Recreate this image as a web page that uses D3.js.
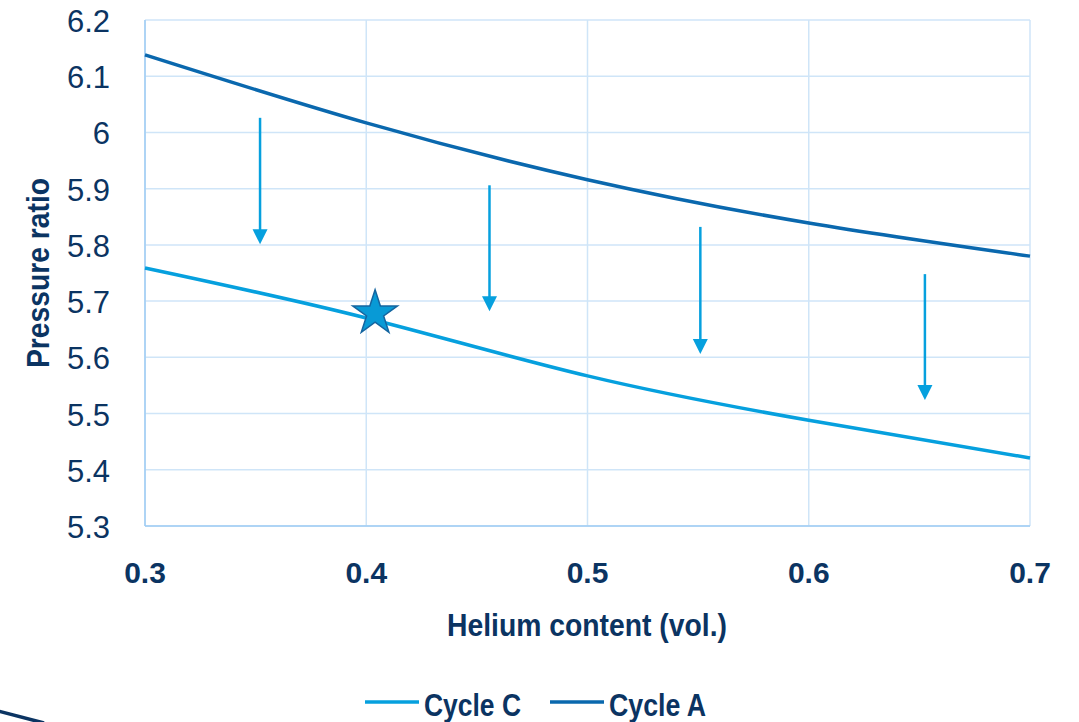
<!DOCTYPE html>
<html>
<head>
<meta charset="utf-8">
<script src="https://cdn.jsdelivr.net/npm/d3@7"></script>
<style>
  body { margin: 0; background: #fff; }
  svg { display: block; }
  .ytick { font-family: "Liberation Sans", Arial, sans-serif; font-size: 31px; fill: #0b3462; }
  .xtick { font-family: "Liberation Sans", Arial, sans-serif; font-size: 30px; font-weight: bold; fill: #0b3462; }
  .title { font-family: "Liberation Sans", Arial, sans-serif; font-weight: bold; font-size: 32px; fill: #0b3462; }
</style>
</head>
<body>
<div id="chart"></div>
<script>
// helium content on the x axis
const helium = [0.3, 0.4, 0.5, 0.6, 0.7];
// pressure ratio per cycle
const cycleA = [6.138, 6.017, 5.916, 5.839, 5.780];
const cycleC = [5.759, 5.670, 5.567, 5.488, 5.421];

const xTicks = [0.3, 0.4, 0.5, 0.6, 0.7];
const yTicks = [5.3, 5.4, 5.5, 5.6, 5.7, 5.8, 5.9, 6.0, 6.1, 6.2];

// arrows: x, start, end
const arrowX = [0.352, 0.4557, 0.551, 0.6525];
const arrowFrom = [6.026, 5.906, 5.832, 5.748];
const arrowTo = [5.801, 5.682, 5.606, 5.524];

// the star (design point)
const starPoint = [0.404, 5.682];

const width = 1079, height = 722;
const colorA = '#0a68ae', colorC = '#06a0de', textColor = '#0b3462';

const svg = d3.select('#chart').append('svg')
    .attr('width', width).attr('height', height);

const x = d3.scaleLinear().domain([0.3, 0.7]).range([145, 1030]);
const y = d3.scaleLinear().domain([5.3, 6.2]).range([526, 20]);

// grid lines
svg.append('g').selectAll('line').data(yTicks).enter().append('line')
    .attr('x1', x(0.3)).attr('x2', x(0.7))
    .attr('y1', d => y(d)).attr('y2', d => y(d))
    .attr('stroke', '#cfe5f8').attr('stroke-width', 1.5);
svg.append('g').selectAll('line').data(xTicks).enter().append('line')
    .attr('x1', d => x(d)).attr('x2', d => x(d))
    .attr('y1', y(5.3)).attr('y2', y(6.2))
    .attr('stroke', '#cfe5f8').attr('stroke-width', 1.5);

// left & bottom axis lines are a bit stronger
svg.append('line').attr('x1', x(0.3)).attr('x2', x(0.3)).attr('y1', y(5.3)).attr('y2', y(6.2))
    .attr('stroke', '#9fcdf3').attr('stroke-width', 1.5);
svg.append('line').attr('x1', x(0.3)).attr('x2', x(0.7)).attr('y1', y(5.3)).attr('y2', y(5.3))
    .attr('stroke', '#9fcdf3').attr('stroke-width', 1.5);

// tick labels
svg.append('g').selectAll('text').data(yTicks).enter().append('text')
    .attr('class', 'ytick')
    .attr('x', 110).attr('y', d => y(d) + 12)
    .attr('text-anchor', 'end')
    .text(d => d3.format('~g')(d));
svg.append('g').selectAll('text').data(xTicks).enter().append('text')
    .attr('class', 'xtick')
    .attr('x', d => x(d)).attr('y', 583)
    .attr('text-anchor', 'middle')
    .text(d => d.toFixed(1));

// axis titles (condensed look via textLength)
svg.append('text').attr('class', 'title')
    .attr('x', 447).attr('y', 636)
    .attr('textLength', 280).attr('lengthAdjust', 'spacingAndGlyphs')
    .text('Helium content (vol.)');
svg.append('text').attr('class', 'title')
    .attr('transform', `translate(49, 368) rotate(-90)`)
    .attr('font-size', 30)
    .attr('textLength', 190).attr('lengthAdjust', 'spacingAndGlyphs')
    .text('Pressure ratio');

// curves
const line = d3.line().x(d => x(d[0])).y(d => y(d[1])).curve(d3.curveNatural);
svg.append('path').datum(d3.zip(helium, cycleA))
    .attr('d', line).attr('fill', 'none').attr('stroke', colorA).attr('stroke-width', 3.5);
svg.append('path').datum(d3.zip(helium, cycleC))
    .attr('d', line).attr('fill', 'none').attr('stroke', colorC).attr('stroke-width', 3.5);

// arrows
const arrows = d3.zip(arrowX, arrowFrom, arrowTo);
svg.append('g').selectAll('line').data(arrows).enter().append('line')
    .attr('x1', d => x(d[0])).attr('x2', d => x(d[0]))
    .attr('y1', d => y(d[1])).attr('y2', d => y(d[2]) - 12)
    .attr('stroke', colorC).attr('stroke-width', 2.5);
svg.append('g').selectAll('path').data(arrows).enter().append('path')
    .attr('d', d => {
        const cx = x(d[0]), ty = y(d[2]);
        return `M${cx - 7.5},${ty - 15} L${cx + 7.5},${ty - 15} L${cx},${ty} Z`;
    })
    .attr('fill', colorC);

// star marker
const star = d3.symbol().type(d3.symbolStar).size(620);
svg.append('path')
    .attr('d', star())
    .attr('transform', `translate(${x(starPoint[0])}, ${y(starPoint[1]) + 2})`)
    .attr('fill', '#089ad6').attr('stroke', '#1465a0').attr('stroke-width', 1.5);

// legend
const legend = [['Cycle C', colorC, 365], ['Cycle A', colorA, 550]];
const lg = svg.append('g').selectAll('g').data(legend).enter().append('g');
lg.append('line')
    .attr('x1', d => d[2]).attr('x2', d => d[2] + 54)
    .attr('y1', 702).attr('y2', 702)
    .attr('stroke', d => d[1]).attr('stroke-width', 3.5);
lg.append('text').attr('class', 'title')
    .attr('x', d => d[2] + 59).attr('y', 716)
    .attr('textLength', 97).attr('lengthAdjust', 'spacingAndGlyphs')
    .text(d => d[0]);

// slide decoration in the corner
svg.append('line').attr('x1', -2).attr('y1', 711).attr('x2', 44).attr('y2', 723)
    .attr('stroke', textColor).attr('stroke-width', 3.5);
</script>
</body>
</html>
